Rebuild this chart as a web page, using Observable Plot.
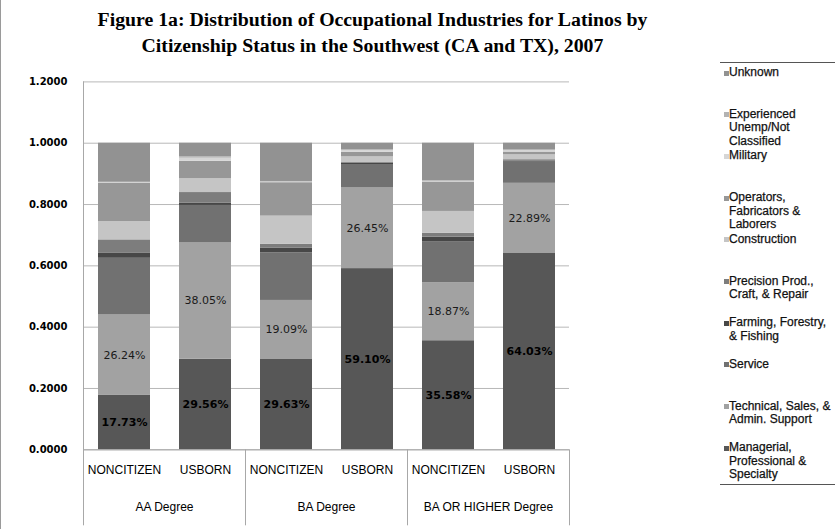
<!DOCTYPE html>
<html>
<head>
<meta charset="utf-8">
<script src="https://cdn.jsdelivr.net/npm/d3@7"></script>
<script src="https://cdn.jsdelivr.net/npm/@observablehq/plot@0.6"></script>
<style>
  html, body { margin: 0; padding: 0; background: #fff; }
  #wrap { position: relative; width: 835px; height: 529px; overflow: hidden; background: #fff; }
  #border { position: absolute; left: 0; top: 0; width: 1px; height: 529px; background: #9a9a9a; }
  #title { position: absolute; left: 0; top: 6px; width: 745px; text-align: center;
    font-family: "Liberation Serif", "DejaVu Serif", serif; font-weight: bold; font-size: 19.8px; line-height: 26px; color: #000; }
  #chart { position: absolute; left: 0; top: 60px; }
  #legend { position: absolute; left: 720px; top: 62px; width: 120px; height: 421px;
    border-top: 1px solid #555; border-bottom: 1px solid #555; }
  .item { position: absolute; left: 0; font-family: "Liberation Sans", Arial, sans-serif; font-size: 12px;
    line-height: 13.6px; color: #111; white-space: nowrap; -webkit-text-stroke: 0.25px #111; }
  .sw { position: absolute; left: 4px; top: 4.5px; width: 5px; height: 5px; }
  .lab { position: absolute; left: 9px; top: 0; }
</style>
</head>
<body>
<div id="wrap">
  <div id="border"></div>
  <div id="title">Figure 1a: Distribution of Occupational Industries for Latinos by<br>Citizenship Status in the Southwest (CA and TX), 2007</div>
  <div id="chart"></div>
  <div id="legend"></div>
</div>
<script>
// ---- data ----
const groups = ["AA Degree", "BA Degree", "BA OR HIGHER Degree"];
const statuses = ["NONCITIZEN", "USBORN"];
// stacking order, bottom to top
const categories = [
  "Managerial, Professional & Specialty",
  "Technical, Sales, & Admin. Support",
  "Service",
  "Farming, Forestry, & Fishing",
  "Precision Prod., Craft, & Repair",
  "Construction",
  "Operators, Fabricators & Laborers",
  "Military",
  "Experienced Unemp/Not Classified",
  "Unknown"
];
// legend text lines (same order as categories)
const legendLines = [
  ["Managerial,", "Professional &", "Specialty"],
  ["Technical, Sales, &", "Admin. Support"],
  ["Service"],
  ["Farming, Forestry,", "& Fishing"],
  ["Precision Prod.,", "Craft, & Repair"],
  ["Construction"],
  ["Operators,", "Fabricators &", "Laborers"],
  ["Military"],
  ["Experienced", "Unemp/Not", "Classified"],
  ["Unknown"]
];
// values per bar: AA-NON, AA-US, BA-NON, BA-US, BA+-NON, BA+-US
const managerial   = [0.1773, 0.2956, 0.2963, 0.5910, 0.3558, 0.6403];
const technical    = [0.2624, 0.3805, 0.1909, 0.2645, 0.1887, 0.2289];
const service      = [0.185, 0.121, 0.155, 0.075, 0.133, 0.069];
const farming      = [0.016, 0.007, 0.015, 0.004, 0.016, 0.004];
const precision    = [0.044, 0.035, 0.013, 0.004, 0.013, 0.004];
const construction = [0.060, 0.045, 0.092, 0.017, 0.071, 0.016];
const operators    = [0.124, 0.057, 0.109, 0.015, 0.096, 0.009];
const military     = [0.002, 0.010, 0.002, 0.006, 0.002, 0.005];
const experienced  = [0.002, 0.005, 0.002, 0.003, 0.002, 0.003];
const unknown      = [0.1273, 0.0439, 0.1248, 0.0205, 0.1225, 0.0208];
const yTicks = [0, 0.2, 0.4, 0.6, 0.8, 1.0, 1.2];

const series = [managerial, technical, service, farming, precision, construction, operators, military, experienced, unknown];
const colors = ["#575757", "#a2a2a2", "#717171", "#474747", "#7d7d7d", "#c5c5c5", "#979797", "#d6d6d6", "#b3b3b3", "#929292"];

const rows = [];
categories.forEach((c, ci) => {
  series[ci].forEach((v, i) => {
    rows.push({category: c, group: groups[Math.floor(i / 2)], status: statuses[i % 2], value: v});
  });
});

const fmt = d3.format(".2%");
const H = 469, MT = 21.4, MB = 79.7;
const plotH = H - MT - MB;

const chart = Plot.plot({
  width: 835,
  height: H,
  marginLeft: 83,
  marginRight: 266,
  marginTop: MT,
  marginBottom: MB,
  style: {fontFamily: "'DejaVu Sans', Verdana, sans-serif", fontSize: "11px", color: "#000", background: "transparent"},
  x: {domain: statuses, paddingInner: 0.36, paddingOuter: 0.18},
  fx: {domain: groups, padding: 0},
  y: {domain: [0, 1.2]},
  color: {domain: categories, range: colors},
  marks: [
    Plot.gridY(yTicks, {stroke: "#b8b8b8", strokeOpacity: 1}),
    Plot.barY(rows, {fx: "group", x: "status", y: "value", fill: "category", order: categories}),
    Plot.text(rows, Plot.stackY({
      fx: "group", x: "status", y: "value", z: "category", order: categories,
      text: d => d.category === categories[0] ? fmt(d.value) : "",
      fontWeight: "bold", fill: "#000", fontSize: 11
    })),
    Plot.text(rows, Plot.stackY({
      fx: "group", x: "status", y: "value", z: "category", order: categories,
      text: d => d.category === categories[1] ? fmt(d.value) : "",
      fill: "#1a1a1a", fontSize: 11
    })),
    Plot.ruleY([0], {stroke: "#a8a8a8"}),
    Plot.frame({anchor: "left", facetAnchor: "left", stroke: "#a8a8a8", strokeOpacity: 1, insetBottom: -75}),
    Plot.frame({anchor: "right", stroke: "#a8a8a8", strokeOpacity: 1, insetTop: plotH, insetBottom: -75}),
    Plot.axisY(yTicks, {tickFormat: d3.format(".4f"), tickSize: 0, tickPadding: 16, label: null,
      fontWeight: "bold", fontSize: 10}),
    Plot.axisX({tickSize: 0, tickPadding: 16, label: null,
      fontFamily: "'Liberation Sans', Arial, sans-serif", fontSize: 12}),
    Plot.axisFx({anchor: "bottom", tickSize: 0, tickPadding: 53, label: null,
      fontFamily: "'Liberation Sans', Arial, sans-serif", fontSize: 12})
  ]
});
document.getElementById("chart").appendChild(chart);

// legend (top to bottom: reverse of stacking order)
const legend = document.getElementById("legend");
const order = categories.map((c, i) => i).reverse();
order.forEach((ci, k) => {
  const item = document.createElement("div");
  item.className = "item";
  item.style.top = (3 + k * 41.7) + "px";
  const sw = document.createElement("div");
  sw.className = "sw";
  sw.style.background = colors[ci];
  const lab = document.createElement("div");
  lab.className = "lab";
  lab.innerHTML = legendLines[ci].join("<br>");
  item.appendChild(sw);
  item.appendChild(lab);
  legend.appendChild(item);
});
</script>
</body>
</html>
